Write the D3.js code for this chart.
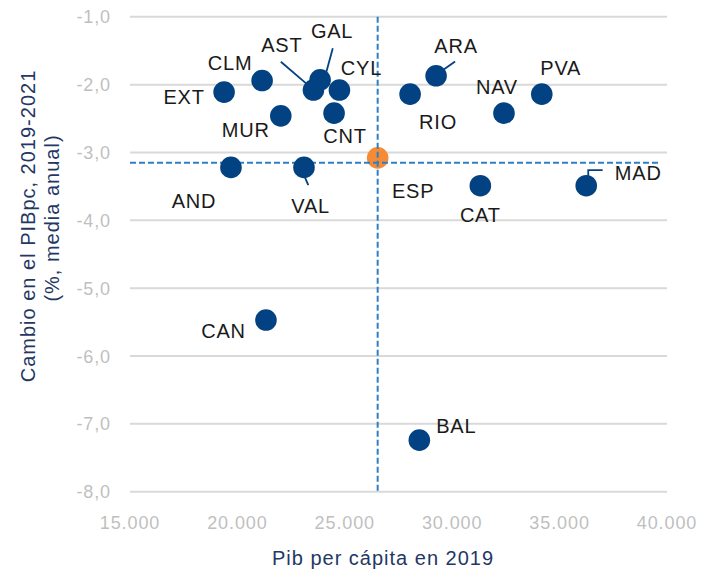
<!DOCTYPE html>
<html><head><meta charset="utf-8">
<script src="https://cdn.jsdelivr.net/npm/d3@7"></script>
<style>
html,body{margin:0;padding:0;background:#fff;}
svg{display:block;font-family:"Liberation Sans",Arial,sans-serif;}
</style></head>
<body>
<svg id="chart" width="701" height="570"></svg>
<script>
// ---- data ----
const regions = ["EXT","CLM","MUR","AST","GAL","CYL","CNT","AND","VAL","ARA","RIO","NAV","PVA","CAT","MAD","CAN","BAL"];
const pibpc2019 = [19380,21150,22020,23540,23850,24750,24500,19700,23100,29250,28040,32410,34170,31310,36240,21330,28470];
const cambioPIBpc = [-2.11,-1.94,-2.46,-2.08,-1.93,-2.08,-2.42,-3.22,-3.22,-1.87,-2.14,-2.42,-2.14,-3.49,-3.49,-5.47,-7.24];
const espName = "ESP";
const espPib = 26530;
const espCambio = -3.08;
const refLineCambio = -3.15;
const xTicks = [15000,20000,25000,30000,35000,40000];
const yTicks = [-1,-2,-3,-4,-5,-6,-7,-8];
const xTitle = "Pib per cápita en 2019";
const yTitle = ["Cambio en el PIBpc, 2019-2021","(%, media anual)"];

// ---- layout (label placement relative to each dot) ----
const labelOffsets = {
  EXT:[-40,12], CLM:[-32,-11], MUR:[-35,21], AST:[-31.6,-37.7], GAL:[12,-41.7],
  CYL:[22,-15], CNT:[11,30], AND:[-37,41], VAL:[6.7,46], ARA:[20,-22.7],
  RIO:[28,35], NAV:[-7,-19], PVA:[19,-19.3], CAT:[0,36], MAD:[52,-5.7],
  CAN:[-42.5,18.3], BAL:[37,-6.7], ESP:[35.5,40.3]
};
const leaders = {
  AST:[[-32.6,-28.3],[-5.3,-5]],
  GAL:[[12.7,-31.7],[5,-3.3]],
  VAL:[[0,7.7],[4.3,17.7]],
  ARA:[[19,-14.3],[7.3,-6]],
  MAD:[[16.4,-15.7],[2,-15.7],[2,-7.4]]
};

const svg = d3.select("#chart");
const L = 130, R = 667, T = 16.8, B = 491.7;
const x = d3.scaleLinear().domain([15000,40000]).range([L,R]);
const y = d3.scaleLinear().domain([-1,-8]).range([T,B]);
const loc = d3.formatLocale({decimal:",",thousands:".",grouping:[3],currency:["","€"],minus:"-"});
const fx = loc.format(",.3f"), fxi = loc.format(",d"), fy = loc.format(".1f");

const dotColor = "#034282", lineBlue = "#2d7fc6", orange = "#f58b35";

// gridlines
svg.append("g").selectAll("line").data(yTicks).join("line")
  .attr("x1",L).attr("x2",R).attr("y1",d=>y(d)).attr("y2",d=>y(d))
  .attr("stroke","#d9d9d9").attr("stroke-width",2);

// y tick labels
svg.append("g").selectAll("text").data(yTicks).join("text")
  .attr("x",111).attr("y",d=>y(d)+6.5).attr("text-anchor","end")
  .attr("font-size",18).attr("letter-spacing",0.9).attr("fill","#bfbfbf")
  .text(d=>fy(d));

// x tick labels
svg.append("g").selectAll("text").data(xTicks).join("text")
  .attr("x",d=>x(d)).attr("y",529).attr("text-anchor","middle")
  .attr("font-size",18).attr("letter-spacing",0.9).attr("fill","#bfbfbf")
  .text(d=>fxi(d));

// axis titles
svg.append("text").attr("x",383).attr("y",565).attr("text-anchor","middle")
  .attr("font-size",20).attr("letter-spacing",1).attr("fill","#1f3864").text(xTitle);
svg.append("text").attr("transform","translate(35,226) rotate(-90)").attr("text-anchor","middle")
  .attr("font-size",20).attr("letter-spacing",1).attr("fill","#1f3864").text(yTitle[0]);
svg.append("text").attr("transform","translate(59,218) rotate(-90)").attr("text-anchor","middle")
  .attr("font-size",20).attr("letter-spacing",1).attr("fill","#1f3864").text(yTitle[1]);

// ESP dot
svg.append("circle").attr("cx",x(espPib)).attr("cy",y(espCambio)).attr("r",10.8).attr("fill",orange);

// reference dashed lines
svg.append("line").attr("x1",L).attr("x2",660).attr("y1",y(refLineCambio)).attr("y2",y(refLineCambio))
  .attr("stroke",lineBlue).attr("stroke-width",2).attr("stroke-dasharray","6,3");
svg.append("line").attr("x1",x(espPib)).attr("x2",x(espPib)).attr("y1",T).attr("y2",B)
  .attr("stroke",lineBlue).attr("stroke-width",2).attr("stroke-dasharray","6,3");

const pts = regions.map((r,i)=>({name:r, px:x(pibpc2019[i]), py:y(cambioPIBpc[i])}));

// leader lines
const lineGen = d3.line();
pts.filter(p=>leaders[p.name]).forEach(p=>{
  svg.append("path").attr("d", lineGen(leaders[p.name].map(d=>[p.px+d[0], p.py+d[1]])))
    .attr("fill","none").attr("stroke",dotColor).attr("stroke-width",1.8);
});

// dots
svg.append("g").selectAll("circle").data(pts).join("circle")
  .attr("cx",d=>d.px).attr("cy",d=>d.py).attr("r",10.8).attr("fill",dotColor);

// labels
const allLabels = pts.concat([{name:espName, px:x(espPib), py:y(espCambio)}]);
svg.append("g").selectAll("text").data(allLabels).join("text")
  .attr("x",d=>d.px+labelOffsets[d.name][0]).attr("y",d=>d.py+labelOffsets[d.name][1])
  .attr("text-anchor","middle").attr("font-size",20).attr("letter-spacing",0.8)
  .attr("fill","#1a1a1a").text(d=>d.name);
</script>
</body></html>
